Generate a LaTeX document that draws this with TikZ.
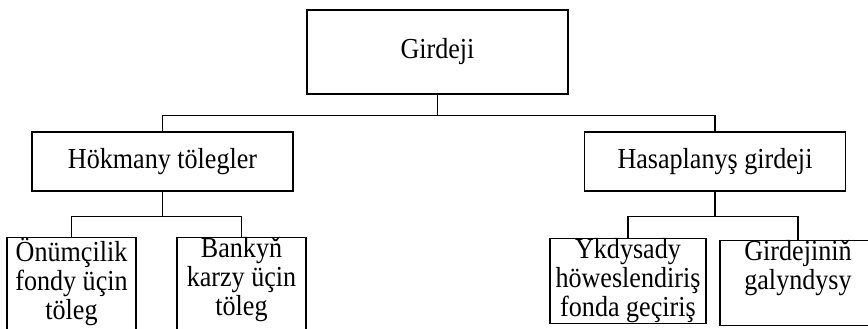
\documentclass[tikz,border=0pt]{standalone}
\usepackage{fontspec}
\setmainfont{Liberation Serif}[FakeStretch=0.9]
\usepackage{tikz}
\usetikzlibrary{positioning}
\newcommand{\leaftext}[3]{\parbox[c][#2][t]{#1}{\lineskiplimit=-20pt\centering\rule{0pt}{10pt}#3}}

\begin{document}
\begin{tikzpicture}[x=0.5pt,y=-0.5pt,line width=0.6pt,
    every node/.style={font=\fontsize{14.5pt}{14.5pt}\selectfont},
    topbox/.style={draw,minimum width=130.5pt,minimum height=42pt,inner sep=0pt},
    midbox/.style={draw,minimum width=130.5pt,minimum height=29.5pt,inner sep=0pt},
    leafbox/.style={draw,anchor=north,inner sep=0pt}]
    \useasboundingbox (0,0) rectangle (868,328);

    \node[topbox] (gir) at (437.5,52) {Girdeji};
    \node[midbox] (hok) at (162.5,161.5) {Hökmany tölegler};
    \node[midbox] (has) at (715,161.5) {Hasaplanyş girdeji};

    \node[leafbox] (onu) at (71.5,237) {\leaftext{64.5pt}{46pt}{Önümçilik\\fondy üçin\\töleg}};
    \node[leafbox] (ban) at (241.5,237) {\leaftext{64.5pt}{46pt}{Bankyň\\karzy üçin\\töleg}};
    \node[leafbox] (ykd) at (628,238) {\leaftext{78pt}{42.5pt}{Ykdysady\\höweslendiriş\\fonda geçiriş}};
    \node[leafbox] (gal) at (798,240) {\leaftext{78pt}{42.5pt}{Girdejiniň\\galyndysy}};

    \draw (gir.south) -- ++(0,21) -| (hok.north);
    \draw (gir.south) -- ++(0,21) -| (has.north);
    \draw (hok.south) -- ++(0,25) -| (onu.north);
    \draw (hok.south) -- ++(0,25) -| (ban.north);
    \draw (has.south) -- ++(0,25) -| (ykd.north);
    \draw (has.south) -- ++(0,25) -| (gal.north);
\end{tikzpicture}
\end{document}
